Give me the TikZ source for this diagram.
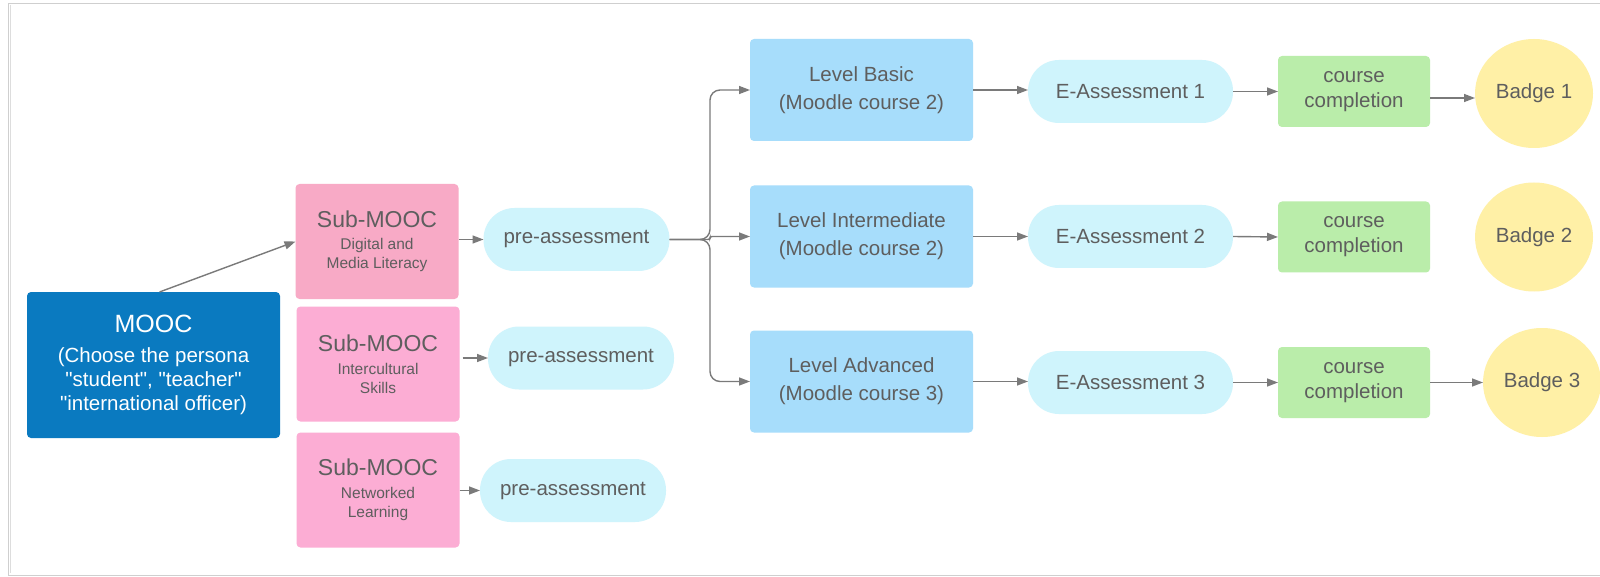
\documentclass[tikz,border=0pt]{standalone}
\usepackage{fontspec}
\setmainfont{Liberation Sans}
\newfontfamily\lsans{Liberation Sans}
\usetikzlibrary{arrows.meta,shapes.geometric}
\definecolor{txt}{HTML}{5E5E5E}
\definecolor{moocblue}{HTML}{0A7AC0}
\definecolor{pinkA}{HTML}{F8AAC6}
\definecolor{pinkB}{HTML}{FCADD4}
\definecolor{pillc}{HTML}{CFF4FC}
\definecolor{lvlc}{HTML}{A7DDFB}
\definecolor{greenc}{HTML}{BAEDAA}
\definecolor{yellowc}{HTML}{FFF0A6}
\definecolor{linec}{HTML}{7A7A7A}
\definecolor{framec}{HTML}{CFCFCF}
\tikzset{
  base/.style={inner sep=0pt, outer sep=0pt, text=txt, align=center},
  moocbox/.style={base, rectangle, rounded corners=4pt, fill=moocblue, text=white, minimum width=253pt, minimum height=146pt, font=\lsans\fontsize{20.5}{24}\selectfont},
  subbox/.style={base, rectangle, rounded corners=4pt, minimum width=163pt, minimum height=115pt, font=\lsans\fontsize{15.5}{19}\selectfont},
  pill/.style={base, rectangle, rounded corners=31pt, fill=pillc, minimum width=186pt, minimum height=63pt, font=\lsans\fontsize{20.5}{24}\selectfont},
  epill/.style={pill, minimum width=205pt},
  lvlbox/.style={base, rectangle, rounded corners=4pt, fill=lvlc, minimum width=223pt, minimum height=102pt, font=\lsans\fontsize{20.5}{28}\selectfont},
  ccbox/.style={base, rectangle, rounded corners=4pt, fill=greenc, minimum width=152pt, minimum height=71pt, font=\lsans\fontsize{20.5}{25}\selectfont},
  badge/.style={base, ellipse, fill=yellowc, minimum width=118pt, minimum height=109pt, font=\lsans\fontsize{20.5}{24}\selectfont},
  arr/.style={draw=linec, line width=1.4pt, -{Triangle[length=11pt,width=8pt]}}
}
\begin{document}
\begin{tikzpicture}[x=1pt,y=-1pt]
\useasboundingbox (0,0) rectangle (1600,577);
\fill[white] (0,0) rectangle (1600,577);
% frame
\draw[framec, line width=1pt] (1600,3.5) -- (8.5,3.5) -- (8.5,575) -- (1600,575);
\draw[framec!70, line width=1.5pt] (10.5,5) -- (10.5,573);

% nodes
\node[moocbox] (mooc) at (153.5,365) {{\fontsize{25}{30}\selectfont MOOC}\\[6pt](Choose the persona\\"student", "teacher"\\"international officer)};

\node[subbox, fill=pinkA] (sub1) at (377,241.5) {{\fontsize{23}{25}\selectfont Sub-MOOC}\\[3.5pt]Digital and\\Media Literacy};
\node[subbox, fill=pinkB] (sub2) at (378,364) {{\fontsize{23}{25}\selectfont Sub-MOOC}\\[3.5pt]Intercultural\\Skills};
\node[subbox, fill=pinkB] (sub3) at (378,490) {{\fontsize{23}{25}\selectfont Sub-MOOC}\\[3.5pt]Networked\\Learning};

\node[pill] (pre1) at (576.5,239.5) {pre-assessment};
\node[pill] (pre2) at (581,358) {pre-assessment};
\node[pill] (pre3) at (573,490.5) {pre-assessment};

\node[lvlbox] (lvl1) at (861.5,90) {Level Basic\\(Moodle course 2)};
\node[lvlbox] (lvl2) at (861.5,236.5) {Level Intermediate\\(Moodle course 2)};
\node[lvlbox] (lvl3) at (861.5,381.5) {Level Advanced\\(Moodle course 3)};

\node[epill] (ea1) at (1130.5,91.5) {E-Assessment 1};
\node[epill] (ea2) at (1130.5,236.5) {E-Assessment 2};
\node[epill] (ea3) at (1130.5,382.5) {E-Assessment 3};

\node[ccbox] (cc1) at (1354,91.5) {course\\completion};
\node[ccbox] (cc2) at (1354,237) {course\\completion};
\node[ccbox] (cc3) at (1354,382.5) {course\\completion};

\node[badge] (b1) at (1534,93.5) {Badge 1};
\node[badge] (b2) at (1534,237) {Badge 2};
\node[badge] (b3) at (1542,382.5) {Badge 3};

% connectors
\draw[arr] ([xshift=6pt]mooc.north) -- (sub1.west);
\draw[arr] (sub1.east |- pre1.west) -- (pre1.west);
\draw[arr] ([xshift=3pt]sub2.east |- pre2.west) -- (pre2.west);
\draw[arr] (sub3.east |- pre3.west) -- (pre3.west);

\coordinate (br) at (710,239.5);
\draw[arr, rounded corners=10pt] (pre1.east) -- (br) |- (lvl1.west);
\draw[arr, rounded corners=2pt] (pre1.east) -- (br) |- (lvl2.west);
\draw[arr, rounded corners=10pt] (pre1.east) -- (br) |- (lvl3.west);

\draw[arr] (lvl1.east) -- (lvl1.east -| ea1.west);
\draw[arr] (lvl2.east) -- (ea2.west);
\draw[arr] (lvl3.east) -- (lvl3.east -| ea3.west);

\draw[arr] (ea1.east) -- (cc1.west);
\draw[arr] (ea2.east) -- (cc2.west);
\draw[arr] (ea3.east) -- (cc3.west);

\coordinate (c1o) at ([yshift=-6.5pt]cc1.east);
\draw[arr] (c1o) -- (c1o -| b1.west);
\draw[arr] (cc3.east) -- (b3.west);
\end{tikzpicture}
\end{document}
